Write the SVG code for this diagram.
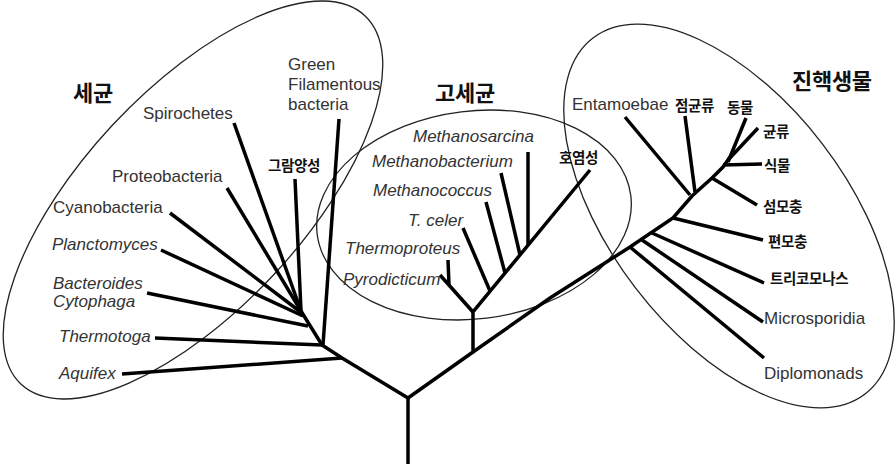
<svg xmlns="http://www.w3.org/2000/svg" width="895" height="464" viewBox="0 0 895 464">
<style>
.en{font-family:"Liberation Sans",Arial,sans-serif;font-size:17px;fill:#333}
.it{font-style:italic}
.ko{font-family:"Noto Sans CJK KR",sans-serif;font-weight:bold;font-size:14.5px;fill:#111;letter-spacing:-0.3px}
.kb{font-family:"Noto Sans CJK KR",sans-serif;font-weight:bold;font-size:22px;fill:#111;letter-spacing:-0.3px}
.br{fill:none;stroke:#000;stroke-width:3.5;stroke-linecap:butt;stroke-linejoin:miter}
.el{fill:none;stroke:#222;stroke-width:1.3}
</style>
<rect width="895" height="464" fill="#fff"/>
<g id="clades">
<ellipse id="bacteria-ellipse" class="el" cx="193" cy="200" rx="252" ry="110" transform="rotate(-47 193 200)"/>
<ellipse id="archaea-ellipse" class="el" cx="474" cy="215" rx="158" ry="104" transform="rotate(-7 474 215)"/>
<ellipse id="eukarya-ellipse" class="el" cx="729" cy="216" rx="224" ry="118" transform="rotate(52.6 729 216)"/>
</g>
<g id="connectors" class="br">
<polyline points="408,464 408,398 342,358 322,345 301,311"/>
<line x1="339" y1="119" x2="323" y2="345"/>
<line x1="295" y1="179" x2="301" y2="311"/>
<line x1="234" y1="123" x2="301" y2="311"/>
<line x1="227" y1="188" x2="301" y2="311"/>
<line x1="170" y1="213" x2="302" y2="313"/>
<line x1="161" y1="250" x2="303" y2="316"/>
<line x1="147" y1="293" x2="308" y2="326"/>
<line x1="155" y1="338" x2="322" y2="345"/>
<line x1="122" y1="374" x2="342" y2="358"/>
<polyline points="408,398 473,352 473,312 590,170"/>
<line x1="473" y1="312" x2="440" y2="275"/>
<line x1="448" y1="260" x2="449" y2="285"/>
<line x1="463" y1="228" x2="490" y2="291"/>
<line x1="486" y1="202" x2="505" y2="273"/>
<line x1="501" y1="173" x2="520" y2="255"/>
<line x1="528" y1="152" x2="528" y2="246"/>
<polyline points="473,352 550,298 630,247 673,218 692,196 712,178 723,167 730,157"/>
<line x1="728" y1="162" x2="746" y2="118"/>
<line x1="728" y1="160" x2="758" y2="128"/>
<line x1="723" y1="165" x2="762" y2="164"/>
<line x1="625" y1="117" x2="690" y2="195"/>
<line x1="685" y1="116" x2="695" y2="192"/>
<line x1="712" y1="178" x2="757" y2="205"/>
<line x1="673" y1="218" x2="763" y2="240"/>
<line x1="652" y1="233" x2="764" y2="283"/>
<line x1="642" y1="240" x2="763" y2="322"/>
<line x1="630" y1="247" x2="764" y2="358"/>
</g>
<g id="title-bacteria"><text class="kb" x="73" y="101">세균</text></g>
<g id="title-archaea"><text class="kb" x="435" y="101">고세균</text></g>
<g id="title-eukarya"><text class="kb" x="792" y="89">진핵생물</text></g>
<g id="green-filamentous"><text class="en" x="288" y="70">Green</text><text class="en" x="288" y="90">Filamentous</text><text class="en" x="288" y="110">bacteria</text></g>
<g id="spirochetes"><text class="en" x="143" y="119">Spirochetes</text></g>
<g id="gram-positive"><text class="ko" x="268" y="171">그람양성</text></g>
<g id="proteobacteria"><text class="en" x="112" y="182">Proteobacteria</text></g>
<g id="cyanobacteria"><text class="en" x="53" y="213">Cyanobacteria</text></g>
<g id="planctomyces"><text class="en it" x="52" y="250">Planctomyces</text></g>
<g id="bacteroides"><text class="en it" x="53" y="289">Bacteroides</text><text class="en it" x="53" y="307">Cytophaga</text></g>
<g id="thermotoga"><text class="en it" x="59" y="342">Thermotoga</text></g>
<g id="aquifex"><text class="en it" x="59" y="379">Aquifex</text></g>
<g id="methanosarcina"><text class="en it" x="413" y="142">Methanosarcina</text></g>
<g id="methanobacterium"><text class="en it" x="372" y="167">Methanobacterium</text></g>
<g id="methanococcus"><text class="en it" x="373" y="196">Methanococcus</text></g>
<g id="t-celer"><text class="en it" x="408" y="226">T. celer</text></g>
<g id="thermoproteus"><text class="en it" x="345" y="254">Thermoproteus</text></g>
<g id="pyrodicticum"><text class="en it" x="343" y="285">Pyrodicticum</text></g>
<g id="halophiles"><text class="ko" x="559" y="163">호염성</text></g>
<g id="entamoebae"><text class="en" x="572" y="110">Entamoebae</text></g>
<g id="slime-molds"><text class="ko" x="675" y="111">점균류</text></g>
<g id="animals"><text class="ko" x="727" y="113">동물</text></g>
<g id="fungi"><text class="ko" x="763" y="137">균류</text></g>
<g id="plants"><text class="ko" x="764" y="171">식물</text></g>
<g id="ciliates"><text class="ko" x="763" y="212">섬모충</text></g>
<g id="flagellates"><text class="ko" x="768" y="247">편모충</text></g>
<g id="trichomonads"><text class="ko" x="770" y="284">트리코모나스</text></g>
<g id="microsporidia"><text class="en" x="764" y="324">Microsporidia</text></g>
<g id="diplomonads"><text class="en" x="764" y="379">Diplomonads</text></g>
</svg>
